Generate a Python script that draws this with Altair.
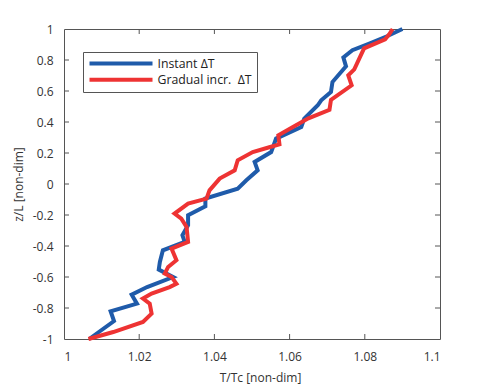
import altair as alt
import pandas as pd

# Temperature profiles across the layer height
series_names = ["Instant\u00a0\u0394T", "Gradual incr.\u00a0\u00a0\u0394T"]
series_colors = ["#1F5BAA", "#EE3333"]

instant_T = [1.0067, 1.0133, 1.0124, 1.0194, 1.0180, 1.0221, 1.0290, 1.0252, 1.0255,
             1.0263, 1.0321, 1.0315, 1.0330, 1.0330, 1.0376, 1.0376, 1.0462, 1.0485,
             1.0515, 1.0507, 1.0551, 1.0564, 1.0631, 1.0639, 1.0675, 1.0684, 1.0710,
             1.0714, 1.0750, 1.0743, 1.0767, 1.0812, 1.0859, 1.0900]
instant_z = [-1.0, -0.884, -0.821, -0.772, -0.714, -0.665, -0.600, -0.552, -0.503,
             -0.428, -0.374, -0.331, -0.266, -0.202, -0.144, -0.094, -0.030, 0.024,
             0.088, 0.142, 0.206, 0.293, 0.368, 0.422, 0.508, 0.540, 0.594,
             0.658, 0.759, 0.817, 0.863, 0.906, 0.953, 1.0]

gradual_T = [1.0065, 1.0131, 1.0210, 1.0233, 1.0228, 1.0210, 1.0233, 1.0281, 1.0299,
             1.0286, 1.0268, 1.0277, 1.0299, 1.0286, 1.0330, 1.0326, 1.0312, 1.0294,
             1.0330, 1.0379, 1.0387, 1.0414, 1.0454, 1.0462, 1.0502, 1.0546, 1.0573,
             1.0570, 1.0610, 1.0650, 1.0706, 1.0710, 1.0765, 1.0756, 1.0772, 1.0798,
             1.0854, 1.0865, 1.0874]
gradual_z = [-1.0, -0.955, -0.890, -0.836, -0.772, -0.739, -0.707, -0.665, -0.643,
             -0.600, -0.578, -0.535, -0.492, -0.417, -0.374, -0.277, -0.223, -0.191,
             -0.126, -0.094, -0.041, 0.035, 0.088, 0.153, 0.206, 0.237, 0.256,
             0.314, 0.369, 0.424, 0.479, 0.543, 0.637, 0.701, 0.740, 0.875,
             0.934, 0.966, 1.0]

x_ticks = [1.0, 1.02, 1.04, 1.06, 1.08, 1.1]
y_ticks = [-1.0, -0.8, -0.6, -0.4, -0.2, 0.0, 0.2, 0.4, 0.6, 0.8, 1.0]

W, H = 376, 310
FONT = "Open Sans"
INK = "#333333"

rows = []
for name, ts, zs in [(series_names[0], instant_T, instant_z),
                     (series_names[1], gradual_T, gradual_z)]:
    for i, (t, z) in enumerate(zip(ts, zs)):
        rows.append({"series": name, "T": t, "z": z, "i": i})
profiles = pd.DataFrame(rows)

x_scale = alt.Scale(domain=[1.0, 1.1], nice=False, zero=False)
y_scale = alt.Scale(domain=[-1.0, 1.0], nice=False, zero=False)

# one axis definition per direction, shared by every layer
x_axis = alt.Axis(values=x_ticks, title="T/Tc [non-dim]", ticks=False, tickSize=0,
                  domain=False, grid=False, labelPadding=12, labelOverlap=False,
                  labelExpr="'' + datum.value",
                  titleX=196, titleY=38, titleBaseline="middle")
y_axis = alt.Axis(values=y_ticks, title="z/L [non-dim]", ticks=False, tickSize=0,
                  domain=False, grid=False, labelPadding=11, labelOverlap=False,
                  labelExpr="'' + datum.value",
                  titleX=-46, titleY=155, titleBaseline="middle")

lines = alt.Chart(profiles).mark_line(strokeWidth=4).encode(
    x=alt.X("T:Q", scale=x_scale, axis=x_axis),
    y=alt.Y("z:Q", scale=y_scale, axis=y_axis),
    color=alt.Color("series:N",
                    scale=alt.Scale(domain=series_names, range=series_colors),
                    sort=series_names,
                    legend=alt.Legend(title=None, orient="none", legendX=19, legendY=23,
                                      symbolType="stroke", symbolSize=3969,
                                      symbolStrokeWidth=4, clipHeight=14, rowPadding=2.3,
                                      labelOffset=3, padding=4.5, strokeColor="#555555",
                                      fillColor="white", labelFontSize=12.3, labelFont=FONT,
                                      labelColor="#222222")),
    order="i:Q",
)

xt = pd.DataFrame({"v": x_ticks[1:-1]})
yt = pd.DataFrame({"v": y_ticks[1:-1]})
tick_len = 5
tick_style = dict(color="#555555", strokeWidth=1)

# inward tick marks on all four sides of the frame
bottom_ticks = alt.Chart(xt).mark_rule(**tick_style).encode(
    x=alt.X("v:Q", scale=x_scale, axis=x_axis), y=alt.value(H), y2=alt.value(H - tick_len))
top_ticks = alt.Chart(xt).mark_rule(**tick_style).encode(
    x=alt.X("v:Q", scale=x_scale, axis=x_axis), y=alt.value(0), y2=alt.value(tick_len))
left_ticks = alt.Chart(yt).mark_rule(**tick_style).encode(
    y=alt.Y("v:Q", scale=y_scale, axis=y_axis), x=alt.value(0), x2=alt.value(tick_len))
right_ticks = alt.Chart(yt).mark_rule(**tick_style).encode(
    y=alt.Y("v:Q", scale=y_scale, axis=y_axis), x=alt.value(W), x2=alt.value(W - tick_len))

chart = alt.layer(lines, bottom_ticks, top_ticks, left_ticks, right_ticks).properties(
    width=W, height=H,
    autosize=alt.AutoSizeParams(type="none"),
    padding={"left": 64, "top": 29, "right": 54, "bottom": 47},
    background="white",
).configure_view(
    stroke="#555555", strokeWidth=1
).configure_axis(
    labelFont=FONT, labelFontSize=12, labelColor=INK,
    titleFont=FONT, titleFontSize=12, titleColor=INK, titleFontWeight="normal",
)

chart.save("out.html", embed_options={"renderer": "svg", "actions": False})
